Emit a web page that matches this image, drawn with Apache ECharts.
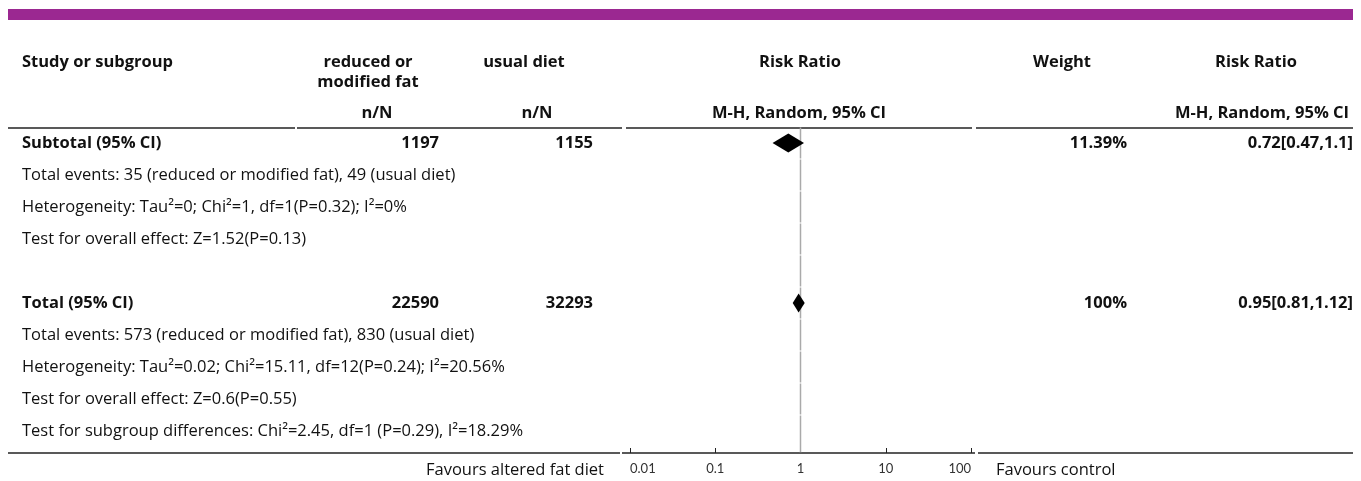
<!DOCTYPE html>
<html>
<head>
<meta charset="utf-8">
<script src="https://cdn.jsdelivr.net/npm/echarts@6/dist/echarts.min.js"></script>
<style>
  html, body { margin: 0; padding: 0; background: #fff; }
  #chart { width: 1361px; height: 481px; }
</style>
</head>
<body>
<div id="chart"></div>
<script>
// Table rows, top to bottom (blank string = spacer row)
const rowLabels = [
  'Subtotal (95% CI)',
  'Total events: 35 (reduced or modified fat), 49 (usual diet)',
  'Heterogeneity: Tau\u00B2=0; Chi\u00B2=1, df=1(P=0.32); I\u00B2=0%',
  'Test for overall effect: Z=1.52(P=0.13)',
  '',
  'Total (95% CI)',
  'Total events: 573 (reduced or modified fat), 830 (usual diet)',
  'Heterogeneity: Tau\u00B2=0.02; Chi\u00B2=15.11, df=12(P=0.24); I\u00B2=20.56%',
  'Test for overall effect: Z=0.6(P=0.55)',
  'Test for subgroup differences: Chi\u00B2=2.45, df=1 (P=0.29), I\u00B2=18.29%'
];

// Pooled rows (row index into rowLabels)
const pooledRows = [0, 5];
const expTotals = [1197, 22590];
const ctrlTotals = [1155, 32293];
const weights = [11.39, 100];
const rrEstimate = [0.72, 0.95];
const rrLower = [0.47, 0.81];
const rrUpper = [1.1, 1.12];

// Log-scale axis ticks
const axisTicks = [0.01, 0.1, 1, 10, 100];

const FONT = '"Open Sans", "Noto Sans", sans-serif';
const SIZE = 16.5;
const INK = '#111';
const ROW0 = 143, ROW_H = 32;

const chart = echarts.init(document.getElementById('chart'), null, { renderer: 'canvas' });

const graphics = [];
function txt(x, y, s, opt) {
  opt = opt || {};
  graphics.push({
    type: 'text', x: x, y: y, silent: true,
    style: {
      text: s, fill: INK,
      font: (opt.bold ? 'bold ' : '') + (opt.size || SIZE) + 'px ' + FONT,
      textAlign: opt.align || 'left', textVerticalAlign: 'middle'
    }
  });
}
function hline(x1, x2, y, w) {
  graphics.push({
    type: 'line', silent: true,
    shape: { x1: x1, y1: y, x2: x2, y2: y },
    style: { stroke: '#222', lineWidth: w || 1.5 }
  });
}

// Purple banner
graphics.push({ type: 'rect', silent: true, shape: { x: 8, y: 9, width: 1345, height: 11 }, style: { fill: '#9b2891' } });

// Column headers
txt(22, 62, 'Study or subgroup', { bold: true });
txt(368, 62, 'reduced or', { bold: true, align: 'center' });
txt(368, 82, 'modified fat', { bold: true, align: 'center' });
txt(524, 62, 'usual diet', { bold: true, align: 'center' });
txt(800, 62, 'Risk Ratio', { bold: true, align: 'center' });
txt(1062, 62, 'Weight', { bold: true, align: 'center' });
txt(1256, 62, 'Risk Ratio', { bold: true, align: 'center' });
txt(377, 113, 'n/N', { bold: true, align: 'center' });
txt(537, 113, 'n/N', { bold: true, align: 'center' });
txt(799, 113, 'M-H, Random, 95% CI', { bold: true, align: 'center' });
txt(1262, 113, 'M-H, Random, 95% CI', { bold: true, align: 'center' });

// Header rule and bottom rule (split at column boundaries)
hline(8, 295, 128); hline(297, 622, 128); hline(626, 972, 128); hline(976, 1353, 128);
hline(8, 620, 453); hline(622, 975, 453); hline(978, 1353, 453);

// Row text
rowLabels.forEach(function (s, i) {
  if (!s) return;
  const y = ROW0 + i * ROW_H;
  const k = pooledRows.indexOf(i);
  txt(22, y, s, { bold: k >= 0 });
  if (k >= 0) {
    txt(439, y, String(expTotals[k]), { bold: true, align: 'right' });
    txt(593, y, String(ctrlTotals[k]), { bold: true, align: 'right' });
    txt(1127, y, weights[k] + '%', { bold: true, align: 'right' });
    txt(1353, y, rrEstimate[k] + '[' + rrLower[k] + ',' + rrUpper[k] + ']', { bold: true, align: 'right' });
  }
});

// Favours captions
txt(604, 470, 'Favours altered fat diet', { align: 'right' });
txt(996, 470, 'Favours control', { align: 'left' });

const nRows = rowLabels.length;
const yMax = (453 - 127) / ROW_H;

const diamondData = pooledRows.map(function (r, k) {
  return [rrEstimate[k], rrLower[k], rrUpper[k], r + 0.5];
});
const nullLineData = rowLabels.map(function (s, i) {
  return [1, i, i === nRows - 1 ? yMax : i + 1];
});

chart.setOption({
  animation: false,
  backgroundColor: '#fff',
  grid: { left: 630, width: 341, top: 127, height: 326 },
  xAxis: {
    type: 'log', logBase: 10, min: 0.01, max: 100,
    position: 'bottom',
    axisLine: { show: false, onZero: false },
    axisTick: { show: true, inside: true, length: 5, lineStyle: { color: '#222', width: 1 } },
    splitLine: { show: false },
    axisLabel: {
      color: '#333', fontFamily: 'Lato, sans-serif', fontSize: 13, margin: 9,
      alignMinLabel: 'left', alignMaxLabel: 'right',
      formatter: function (v) {
        const t = axisTicks.find(function (a) { return Math.abs(Math.log10(a) - Math.log10(v)) < 1e-6; });
        return t === undefined ? '' : String(t);
      }
    }
  },
  yAxis: {
    type: 'value', inverse: true, min: 0, max: yMax,
    show: false
  },
  graphic: graphics,
  series: [
    {
      // line of no effect, broken at row boundaries
      type: 'custom', silent: true, z: 1,
      data: nullLineData,
      renderItem: function (params, api) {
        const a = api.coord([api.value(0), api.value(1)]);
        const b = api.coord([api.value(0), api.value(2)]);
        return {
          type: 'line',
          shape: { x1: a[0], y1: a[1] + 0.5, x2: b[0], y2: b[1] - 0.5 },
          style: { stroke: '#aaa', lineWidth: 1.5 }
        };
      }
    },
    {
      // pooled estimates as diamonds
      type: 'custom', silent: true, z: 3,
      data: diamondData,
      renderItem: function (params, api) {
        const c = api.coord([api.value(0), api.value(3)]);
        const lo = api.coord([api.value(1), api.value(3)]);
        const hi = api.coord([api.value(2), api.value(3)]);
        const h = 9.5;
        return {
          type: 'polygon',
          shape: { points: [[lo[0], c[1]], [c[0], c[1] - h], [hi[0], c[1]], [c[0], c[1] + h]] },
          style: { fill: '#000' }
        };
      }
    }
  ]
});
</script>
</body>
</html>
